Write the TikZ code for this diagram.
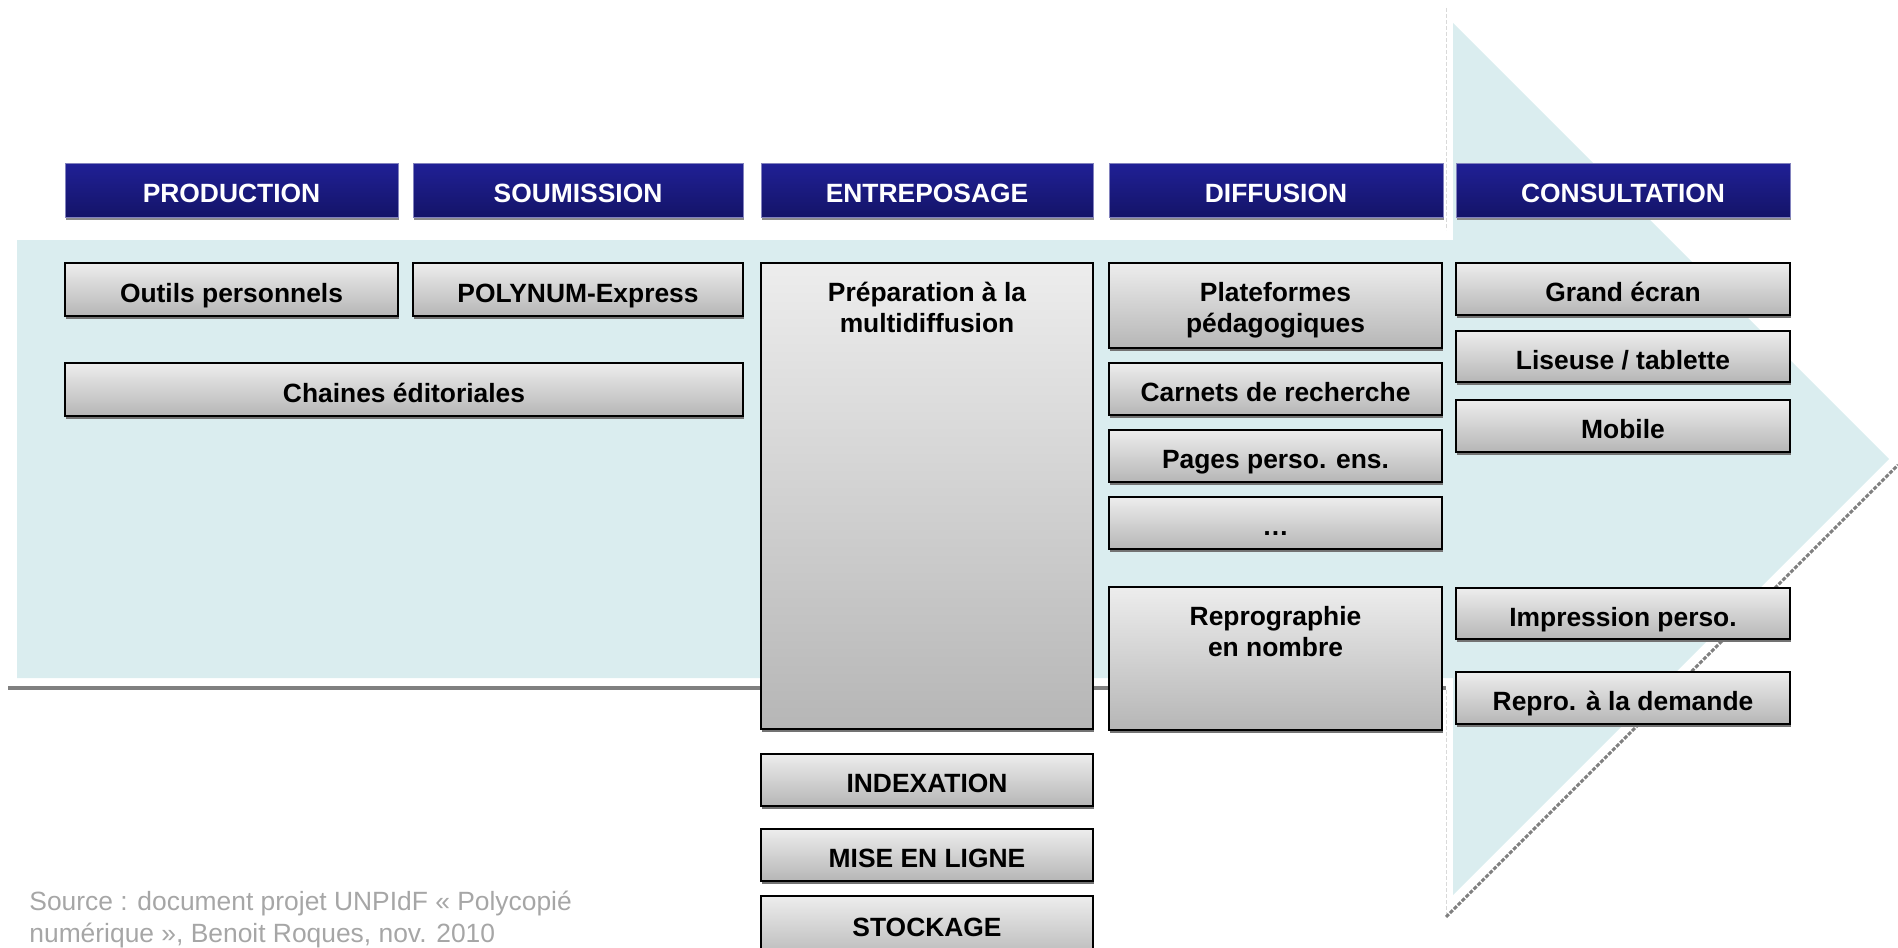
\documentclass[tikz,border=0pt]{standalone}
\usepackage{fontspec}
\setmainfont{Liberation Sans}
\usetikzlibrary{shadows}
\definecolor{bgblue}{RGB}{218,237,239}
\definecolor{hdtop}{RGB}{32,32,150}
\definecolor{hdbot}{RGB}{20,20,104}
\definecolor{hdline}{RGB}{130,130,190}
\definecolor{boxtop}{RGB}{237,237,237}
\definecolor{boxbot}{RGB}{182,182,182}
\definecolor{srcgray}{RGB}{166,166,166}
\newcommand\placebox[7][]{%
  \pgfmathsetmacro\bxcx{(#3+#5)/2}%
  \pgfmathsetmacro\bxcy{(#4+#6)/2}%
  \pgfmathsetmacro\bxw{(#5-#3)*0.5}%
  \pgfmathsetmacro\bxh{(#6-#4)*0.5}%
  \node[#1, minimum width=\bxw pt, minimum height=\bxh pt] (#2) at (\bxcx,\bxcy) {#7};}
\tikzset{
  hdr/.style={draw=hdline, line width=0.5pt, top color=hdtop, bottom color=hdbot,
    text=white, font=\bfseries\fontsize{13.2}{15.5}\selectfont, inner sep=0pt,
    text height=12pt, text depth=0pt,
    drop shadow={shadow xshift=0.5pt, shadow yshift=-1.5pt, fill=black!45, opacity=1}},
  gbox/.style={draw=black, line width=1pt, top color=boxtop, bottom color=boxbot,
    font=\bfseries\fontsize{13.2}{15.5}\selectfont, inner sep=0pt,
    text height=12.5pt, text depth=0pt,
    drop shadow={shadow xshift=0.5pt, shadow yshift=-1.5pt, fill=black!55, opacity=1}},
  lbl/.style={font=\bfseries\fontsize{13.2}{15.5}\selectfont, align=center, inner sep=0pt, anchor=north},
  faint/.style={draw=black!15, line width=0.5pt, dash pattern=on 2pt off 1pt},
}
\begin{document}
\begin{tikzpicture}[x=0.5pt, y=-0.5pt]
\useasboundingbox (0,0) rectangle (1898,947);
% background arrow
\fill[bgblue] (17,240) -- (1453,240) -- (1453,23) -- (1889,459) -- (1453,895) -- (1453,678) -- (17,678) -- cycle;
% shadow outline of the arrow
\coordinate (s1) at (1446,8);
\coordinate (s2) at (1446,230);
\coordinate (s3) at (1446,690);
\coordinate (s4) at (1446,917);
\coordinate (s5) at (1898,465);
\coordinate (g1) at (8,688);
\coordinate (g2) at (1446,688);
\draw[faint] (s1) -- (s2);
\draw[faint] (s3) -- (s4);
\draw[black!50, line width=2pt] (g1) -- (g2);
\draw[black!50, line width=1.5pt, dash pattern=on 2pt off 0.8pt] (s4) -- (s5);
% headers
\placebox[hdr]{hprod}{65}{163}{398}{217}{PRODUCTION}
\placebox[hdr]{hsoum}{413}{163}{743}{217}{SOUMISSION}
\placebox[hdr]{hentr}{761}{163}{1093}{217}{ENTREPOSAGE}
\placebox[hdr]{hdiff}{1109}{163}{1443}{217}{DIFFUSION}
\placebox[hdr]{hcons}{1456}{163}{1790}{217}{CONSULTATION}
% production / soumission
\placebox[gbox]{outils}{65}{263}{398}{316}{Outils personnels}
\placebox[gbox]{polynum}{413}{263}{743}{316}{POLYNUM-Express}
\placebox[gbox]{chaines}{65}{363}{743}{416}{Chaines éditoriales}
% entreposage
\placebox[gbox]{prep}{761}{263}{1093}{729}{}
\node[lbl] (preptxt) at (927,282) {Préparation à la\\multidiffusion};
\placebox[gbox]{index}{761}{754}{1093}{806}{INDEXATION}
\placebox[gbox]{mise}{761}{829}{1093}{881}{MISE EN LIGNE}
\placebox[gbox]{stock}{761}{896}{1093}{962}{}
\node[font=\bfseries\fontsize{13.2}{15.5}\selectfont, inner sep=0pt, anchor=base] (stocktxt) at (927,936) {STOCKAGE};
% diffusion
\placebox[gbox]{plat}{1109}{263}{1442}{348}{}
\node[lbl] (plattxt) at (1275.5,282) {Plateformes\\pédagogiques};
\placebox[gbox]{carnets}{1109}{363}{1442}{415}{Carnets de recherche}
\placebox[gbox]{pages}{1109}{430}{1442}{482}{Pages perso. ens.}
\placebox[gbox]{dots}{1109}{497}{1442}{549}{…}
\placebox[gbox]{repro}{1109}{587}{1442}{730}{}
\node[lbl] (reprotxt) at (1275.5,606) {Reprographie\\en nombre};
% consultation
\placebox[gbox]{grand}{1456}{263}{1790}{315}{Grand écran}
\placebox[gbox]{liseuse}{1456}{331}{1790}{382}{Liseuse / tablette}
\placebox[gbox]{mobile}{1456}{400}{1790}{452}{Mobile}
\placebox[gbox]{impr}{1456}{588}{1790}{639}{Impression perso.}
\placebox[gbox]{reprod}{1456}{672}{1790}{724}{Repro. à la demande}
% source
\node[font=\fontsize{13.2}{16}\selectfont, text=srcgray, align=left, anchor=north west, inner sep=0pt] (src) at (29,891) {Source : document projet UNPIdF « Polycopié\\numérique », Benoit Roques, nov. 2010};
\end{tikzpicture}
\end{document}
